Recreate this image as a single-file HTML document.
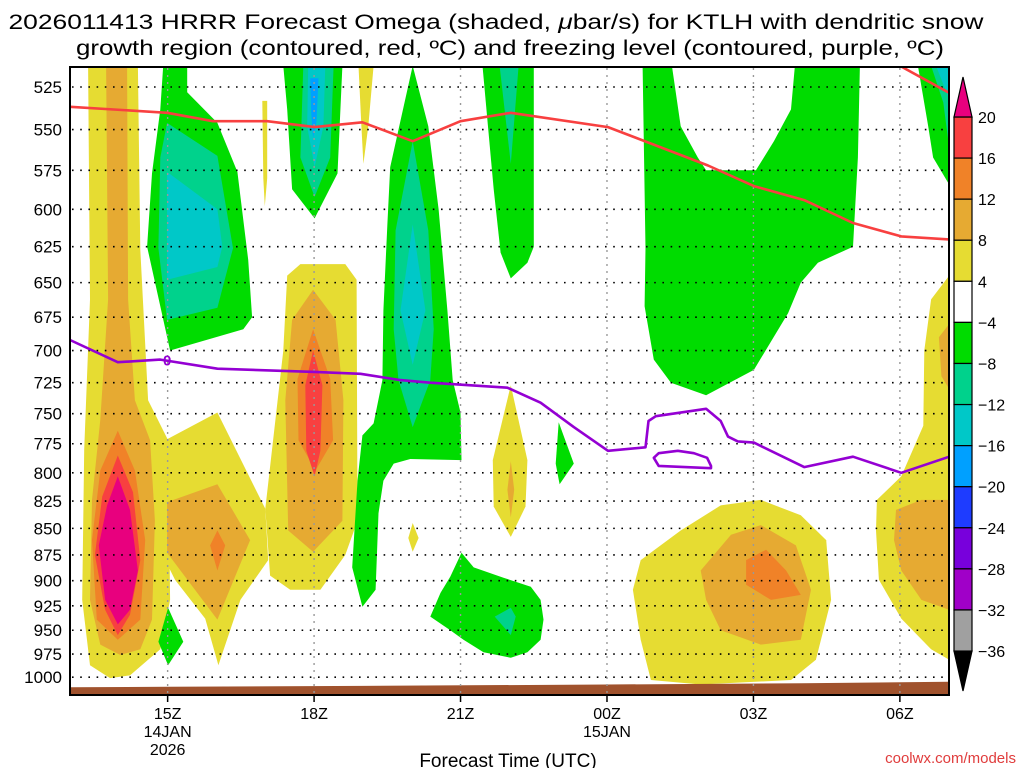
<!DOCTYPE html>
<html><head><meta charset="utf-8"><style>
html,body{margin:0;padding:0;background:#fff;}
svg{display:block;font-family:"Liberation Sans",sans-serif;}
</style></head><body>
<svg id="chart" width="1024" height="768" viewBox="0 0 1024 768" xmlns="http://www.w3.org/2000/svg">
<rect x="0" y="0" width="1024" height="768" fill="#fff"/>
<text x="496" y="29" font-size="21" text-anchor="middle" textLength="975" lengthAdjust="spacingAndGlyphs">2026011413 HRRR Forecast Omega (shaded, <tspan font-style="italic">μ</tspan>bar/s) for KTLH with dendritic snow</text>
<text x="510" y="55" font-size="21" text-anchor="middle" textLength="868" lengthAdjust="spacingAndGlyphs">growth region (contoured, red, ºC) and freezing level (contoured, purple, ºC)</text>
<defs><clipPath id="plotclip"><rect x="70" y="67" width="879" height="628"/></clipPath></defs>
<g id="shading" clip-path="url(#plotclip)"></g>
<g id="grid"></g>
<g id="lines" clip-path="url(#plotclip)"></g>
<rect x="70" y="67" width="879" height="628" fill="none" stroke="#000" stroke-width="2"/>
<g id="yaxis"></g>
<g id="xaxis"></g>
<text x="508" y="767" font-size="19" text-anchor="middle">Forecast Time (UTC)</text>
<text x="1016" y="763" font-size="15" fill="#e03c3c" text-anchor="end">coolwx.com/models</text>
<g id="colorbar"></g>
</svg>
<script>
// ---- axis data ----
const pressureTicks = [525,550,575,600,625,650,675,700,725,750,775,800,825,850,875,900,925,950,975,1000];
const timeTicks = [15,18,21,24,27,30];
const timeLabels = ["15Z","18Z","21Z","00Z","03Z","06Z"];
const dateLabels = {15:["14JAN","2026"],24:["15JAN"]};
const cbLevels = [20,16,12,8,4,-4,-8,-12,-16,-20,-24,-28,-32,-36];
const cbColors = ["#f84040","#f08228","#e6aa32","#e6dc32","#ffffff","#00dc00","#00d28c","#00c8c8","#00a0ff","#1e3cff","#7800dc","#a000c8","#a0a0a0"];
const cbTopColor = "#e8007e";
const cbBottomColor = "#000000";

// ---- shaded omega regions, [hour since 00Z 14JAN, hPa] ----
const yellowRegions = [
 [[13.37,513],[14.39,513],[14.44,627],[14.6,739],[15.01,772],[15.05,919],[14.85,970],[14.23,998],[13.82,1001],[13.41,987],[13.25,919],[13.29,780],[13.41,662]],
 [[14.95,772],[16.02,749],[17.0,832],[17.06,880],[16.49,919],[16.04,987],[15.77,938],[15.15,899],[14.95,880]],
 [[17.45,645],[17.72,637],[18.64,637],[18.87,648],[18.89,843],[18.64,875],[18.13,909],[17.51,909],[17.1,895],[17.0,832],[17.37,700]],
 [[18.91,513],[19.22,513],[19.11,548],[19.01,571],[18.97,548]],
 [[16.94,533],[17.04,533],[17.04,580],[16.99,598],[16.96,580]],
 [[22.03,727],[22.37,789],[22.33,830],[22.03,858],[21.68,830],[21.66,789]],
 [[20.02,845],[20.14,859],[20.02,872],[19.93,859]],
 [[24.69,880],[25.51,852],[26.33,829],[27.15,824],[27.97,838],[28.49,861],[28.59,919],[28.28,981],[27.77,1003],[25.92,1008],[24.9,1003],[24.69,960],[24.53,909]],
 [[29.53,824],[30.03,803],[30.48,760],[30.5,700],[30.64,662],[31.01,645],[31.01,981],[30.64,970],[30.03,938],[29.57,899],[29.51,852]]
];
const lightOrangeRegions = [
 [[13.74,513],[14.17,513],[14.19,662],[14.33,739],[14.64,772],[14.74,843],[14.68,939],[14.44,970],[14.03,976],[13.62,965],[13.41,919],[13.45,824],[13.62,755],[13.78,662]],
 [[14.99,826],[16.02,810],[16.69,861],[16.02,939],[14.99,873]],
 [[17.98,655],[18.44,677],[18.6,739],[18.58,843],[17.98,872],[17.47,852],[17.41,739],[17.55,677]],
 [[22.03,790],[22.1,815],[22.03,840],[21.96,815]],
 [[25.92,890],[26.54,856],[27.15,847],[27.87,866],[28.18,909],[27.97,960],[27.15,965],[26.33,950],[26.03,919]],
 [[29.92,833],[30.44,824],[31.01,824],[31.01,929],[30.44,919],[30.03,890],[29.88,861]],
 [[30.8,690],[31.01,680],[31.01,730],[30.85,720]]
];
const orangeRegions = [
 [[13.98,764],[14.33,798],[14.54,861],[14.44,939],[13.98,960],[13.55,939],[13.45,861],[13.62,798]],
 [[16.02,852],[16.18,866],[16.02,890],[15.87,866]],
 [[17.98,684],[18.33,722],[18.39,772],[18.03,798],[17.68,772],[17.66,722]],
 [[27.26,870],[27.67,890],[27.97,914],[27.36,919],[26.85,904],[26.85,880]]
];
const redRegions = [
 [[13.98,785],[14.29,817],[14.44,880],[14.23,934],[13.98,955],[13.72,929],[13.51,875],[13.66,821]],
 [[17.98,700],[18.17,727],[18.13,781],[18.01,803],[17.84,781],[17.82,727]]
];
const pinkRegions = [
 [[13.98,803],[14.23,833],[14.39,890],[14.23,929],[13.98,944],[13.72,919],[13.59,866],[13.76,829]]
];
const greenRegions = [
 [[14.91,513],[15.4,513],[15.4,528],[16.02,546],[16.43,576],[16.65,634],[16.73,675],[16.55,684],[15.05,700],[14.58,625],[14.68,577],[14.85,538]],
 [[17.37,513],[18.58,513],[18.48,577],[18.01,606],[17.55,587],[17.45,538]],
 [[20.02,513],[20.34,548],[20.55,600],[20.73,670],[20.84,723],[21,749],[21.02,789],[19.97,788],[19.63,792],[19.42,807],[19.32,836],[19.26,909],[18.99,926],[18.78,887],[18.89,807],[18.99,768],[19.22,758],[19.4,723],[19.42,670],[19.5,611],[19.56,573],[19.73,550]],
 [[21.45,513],[22.5,513],[22.5,625],[22.37,636],[22.03,647],[21.82,629],[21.68,587],[21.62,567]],
 [[21.02,873],[21.27,887],[21.88,897],[22.44,906],[22.64,919],[22.7,939],[22.64,960],[22.37,973],[22.03,979],[21.47,973],[21.06,960],[20.79,950],[20.38,936],[20.59,912],[20.79,896]],
 [[23.01,757],[23.32,792],[23.03,810],[22.95,792]],
 [[15.01,927],[15.32,962],[15.01,987],[14.81,962]],
 [[24.73,513],[25.33,513],[25.51,548],[25.86,567],[26.03,575],[27.05,575],[27.42,557],[27.77,538],[27.85,513],[29.18,513],[29.14,567],[29.04,625],[28.32,636],[27.97,650],[27.71,672],[27.01,715],[26.03,735],[25.31,725],[24.96,707],[24.77,667],[24.79,626]],
 [[30.37,513],[31.01,513],[31.01,584],[30.68,567],[30.58,548]]
];
const tealRegions = [
 [[14.99,546],[16.02,566],[16.34,626],[16.02,668],[14.99,677],[14.81,626],[14.85,567]],
 [[17.78,513],[18.4,513],[18.33,567],[18.01,592],[17.72,567]],
 [[20.02,557],[20.34,614],[20.45,684],[20.38,723],[20.02,761],[19.73,723],[19.63,684],[19.67,614]],
 [[21.8,513],[22.19,513],[22.03,571]],
 [[21.7,936],[22.03,927],[22.13,936],[22.03,955]],
 [[30.64,513],[31.01,513],[31.01,561],[30.89,534]]
];
const cyanRegions = [
 [[14.99,576],[16.02,600],[16.12,625],[16.02,639],[14.99,648]],
 [[17.88,513],[18.23,513],[18.19,548],[18.01,573],[17.86,548]],
 [[20.02,610],[20.28,670],[20.02,711],[19.77,670]],
 [[30.74,513],[31.01,513],[31.01,532]]
];
const blueRegions = [
 [[17.92,520],[18.09,520],[18.05,545],[17.98,555],[17.94,540]]
];
// ---- contour lines ----
const dgzLine = [[13,536.5],[14.99,540],[15.93,545],[17.04,545],[18.01,548.5],[18.99,545.6],[20.02,557],[21,545],[22.03,540],[24.02,548.5],[24.69,556],[26.07,572],[27.01,585],[28.04,594],[29.04,609],[30.03,618],[31.01,620]];
const dgzLineTop = [[30,513],[31.01,528.4]];
const freezeLine = [[13,692],[13.98,709],[14.85,707],[16.02,714],[18.01,716.5],[18.95,718],[19.77,723],[20.38,725],[21.96,729],[22.64,741],[23.32,761],[24.02,781],[24.79,778],[24.85,756],[25,752],[26.03,746],[26.33,756],[26.48,769],[26.68,773],[27.01,774],[28.04,795],[29.04,786],[30.03,800],[31.01,786]];
const freezeLoop = [[24.96,787],[25.06,794],[26.13,796],[26.13,794],[26.05,787],[25.78,783],[25.45,781],[25.06,783]];
const groundLine = [[13,1011],[15,1010.5],[19,1009.5],[24,1008],[28,1006.5],[31,1005]];

// ---- axis functions ----
const X0=70, X1=948.7, H0=13, H1=31;
const xOf = h => X0 + (h-H0)*(X1-X0)/(H1-H0);
const yOf = p => 87 + (Math.log(p) - Math.log(525))*916;
const NS="http://www.w3.org/2000/svg";
function mk(tag, attrs, parent){const e=document.createElementNS(NS,tag);for(const k in attrs)e.setAttribute(k,attrs[k]);parent.appendChild(e);return e;}
const ptsStr = arr => arr.map(d=>xOf(d[0]).toFixed(1)+","+yOf(d[1]).toFixed(1)).join(" ");

const shading=document.getElementById('shading');
function drawRegions(list,color,name){
 list.forEach(r=>{
  const e=mk('polygon',{points:ptsStr(r),fill:color},shading);
  
  
 });
}
drawRegions(yellowRegions,"#e6dc32","omega-4-8-region");
drawRegions(lightOrangeRegions,"#e6aa32","omega-8-12-region");
drawRegions(orangeRegions,"#f08228","omega-12-16-region");
drawRegions(redRegions,"#f84040","omega-16-20-region");
drawRegions(pinkRegions,"#e8007e","omega-above-20-region");
drawRegions(greenRegions,"#00dc00","omega-minus4-8-region");
drawRegions(tealRegions,"#00d28c","omega-minus8-12-region");
drawRegions(cyanRegions,"#00c8c8","omega-minus12-16-region");
drawRegions(blueRegions,"#00a0ff","omega-minus16-20-region");
// ground
{
 const g=groundLine.map(d=>xOf(d[0]).toFixed(1)+","+yOf(d[1]).toFixed(1));
 const e=mk('polygon',{points:g.join(" ")+" 949,700 70,700",fill:"#a0522d"},shading);
 
 
}
// grid
const grid=document.getElementById('grid');
pressureTicks.forEach(p=>{
 const e=mk('line',{x1:72,x2:947,y1:yOf(p),y2:yOf(p),stroke:"#000","stroke-width":1.6,"stroke-dasharray":"1.6 6.6"},grid);
 
 
});
timeTicks.forEach(h=>{
 const e=mk('line',{x1:xOf(h),x2:xOf(h),y1:68,y2:694,stroke:"#999","stroke-width":1.4,"stroke-dasharray":"2 5"},grid);
 
 
});
// lines
const lines=document.getElementById('lines');
function drawLine(arr,color,name,closed){
 const e=mk(closed?'polygon':'polyline',{points:ptsStr(arr),fill:"none",stroke:color,"stroke-width":2.6,"stroke-linejoin":"round"},lines);
 
 
}
drawLine(dgzLine,"#f84040","dendritic-growth-contour",false);
drawLine(dgzLineTop,"#f84040","dendritic-growth-contour-top",false);
drawLine(freezeLine,"#9400d3","freezing-level-contour",false);
drawLine(freezeLoop,"#9400d3","freezing-level-loop",true);
{
 const e=mk('text',{x:xOf(14.99),y:yOf(707)+6,"font-size":15,"font-weight":"bold",fill:"#9400d3","text-anchor":"middle"},lines);
 e.textContent="0";
 
 
}
// y axis
const yaxis=document.getElementById('yaxis');
pressureTicks.forEach(p=>{
 const t=mk('text',{x:62,y:yOf(p)+6,"font-size":17,"text-anchor":"end"},yaxis);
 t.textContent=p;
 
 
});
// x axis
const xaxis=document.getElementById('xaxis');
timeTicks.forEach((h,i)=>{
 const tk=mk('line',{x1:xOf(h),x2:xOf(h),y1:695,y2:702,stroke:"#000","stroke-width":1.5},xaxis);
 
 
 const t=mk('text',{x:xOf(h),y:719,"font-size":16,"text-anchor":"middle"},xaxis);
 t.textContent=timeLabels[i];
 
 
 (dateLabels[h]||[]).forEach((s,j)=>{
  const d=mk('text',{x:xOf(h),y:737+j*18,"font-size":16,"text-anchor":"middle"},xaxis);
  d.textContent=s;
  
  
 });
});
// colorbar
const cb=document.getElementById('colorbar');
const CBX=954, CBW=18, CBY0=117, CBD=41.08;
cbColors.forEach((c,i)=>{
 const r=mk('rect',{x:CBX,y:CBY0+i*CBD,width:CBW,height:CBD,fill:c,stroke:"#000","stroke-width":1.2},cb);
 
 
});
{
 const top=mk('polygon',{points:`${CBX},${CBY0} ${CBX+CBW},${CBY0} ${CBX+CBW/2},${CBY0-40}`,fill:cbTopColor,stroke:"#000","stroke-width":1.2},cb);
 
 
 const yb=CBY0+cbColors.length*CBD;
 const bot=mk('polygon',{points:`${CBX},${yb} ${CBX+CBW},${yb} ${CBX+CBW/2},${yb+40}`,fill:cbBottomColor,stroke:"#000","stroke-width":1.2},cb);
 
 
}
cbLevels.forEach((v,i)=>{
 const t=mk('text',{x:978,y:CBY0+i*CBD+6,"font-size":16},cb);
 t.textContent=(v<0?"\u2212"+Math.abs(v):String(v));
 
 
});
</script>
</body></html>
